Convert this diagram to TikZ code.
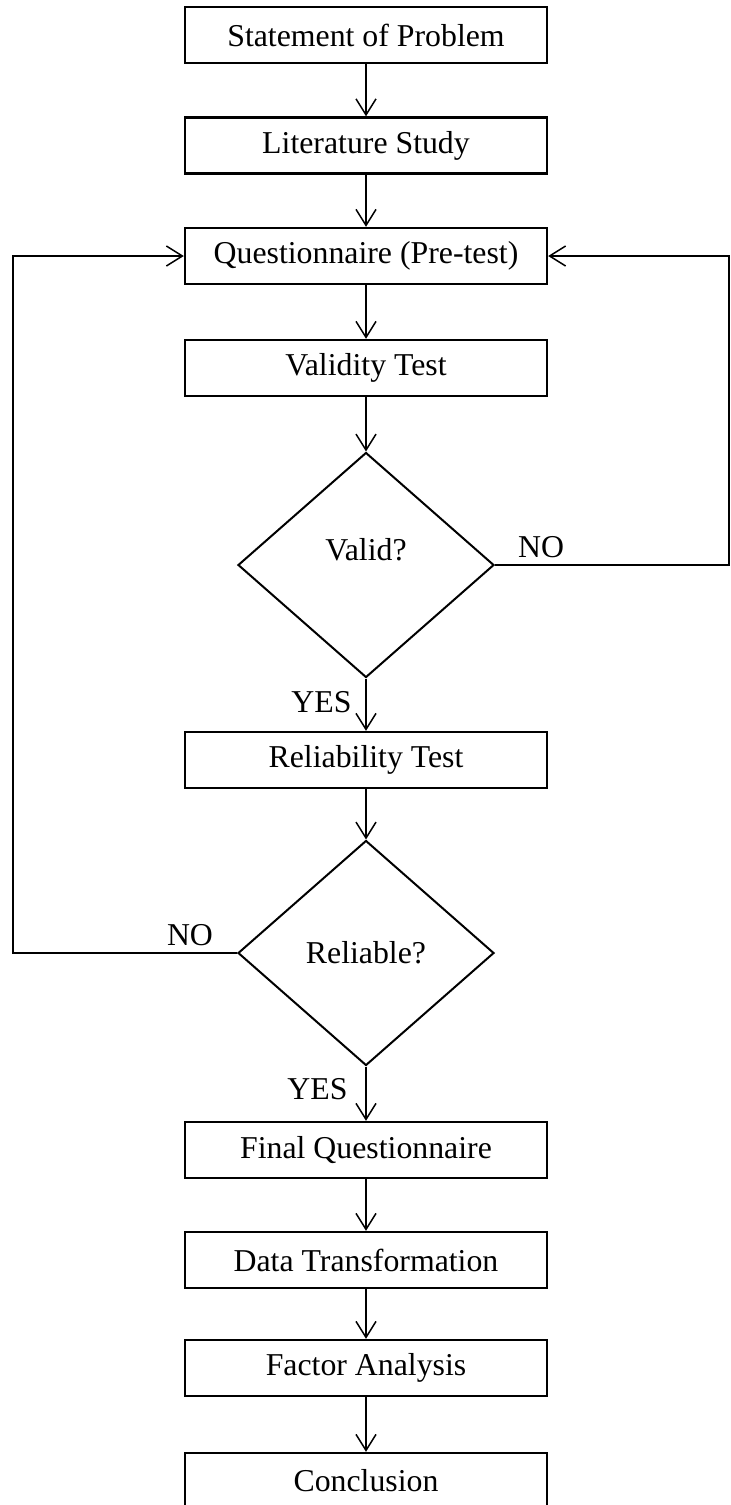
\documentclass[tikz,border=0pt]{standalone}
\usepackage{fontspec}
\setmainfont{Liberation Serif}
\usetikzlibrary{positioning, shapes.geometric, arrows.meta}

\begin{document}
\begin{tikzpicture}[x=0.5pt, y=-0.5pt,
  every node/.style={font=\fontsize{15.9}{19}\selectfont},
  stepbox/.style={draw, line width=1.2pt, minimum width=181pt, minimum height=28pt, inner sep=0pt},
  decision/.style={draw, diamond, line width=1pt, minimum width=128pt, minimum height=112.5pt, inner sep=0pt},
  flow/.style={-{Straight Barb[length=8pt, width=10pt]}, line width=0.75pt}]
  \useasboundingbox (0,0) rectangle (731,1505);

  % main column
  \foreach \n/\y/\t in {stmt/35/Statement of Problem, lit/145.5/Literature Study,
      quest/256/Questionnaire (Pre-test), vtest/368/Validity Test, rtest/760/Reliability Test,
      final/1150/Final Questionnaire, data/1260/Data Transformation,
      factor/1368/Factor Analysis, concl/1481/Conclusion} {
    \node[stepbox] (\n) at (366, \y) {\t};
  }

  \node[decision, text depth=16pt] (valid) at (366, 565) {Valid?};
  \node[decision] (rel) at (366, 953) {Reliable?};

  \foreach \a/\b in {stmt/lit, lit/quest, quest/vtest, vtest/valid, valid/rtest,
      rtest/rel, rel/final, final/data, data/factor, factor/concl} {
    \draw[flow] (\a) -- (\b);
  }

  % answers
  \node[above right=0pt and 8pt of valid.east] (validno) {NO};
  \node[below left=2.7pt and 3.7pt of valid.south] (validyes) {YES};
  \node[above left=0pt and 8.5pt of rel.west] (relno) {NO};
  \node[below left=2.2pt and 5.7pt of rel.south] (relyes) {YES};

  % loops back to the questionnaire
  \coordinate (rturn) at (729, 0);
  \coordinate (lturn) at (13, 0);
  \draw[flow] (valid.east) -- (valid.east -| rturn) |- (quest.east);
  \draw[flow] (rel.west) -- (rel.west -| lturn) |- (quest.west);

\end{tikzpicture}
\end{document}
